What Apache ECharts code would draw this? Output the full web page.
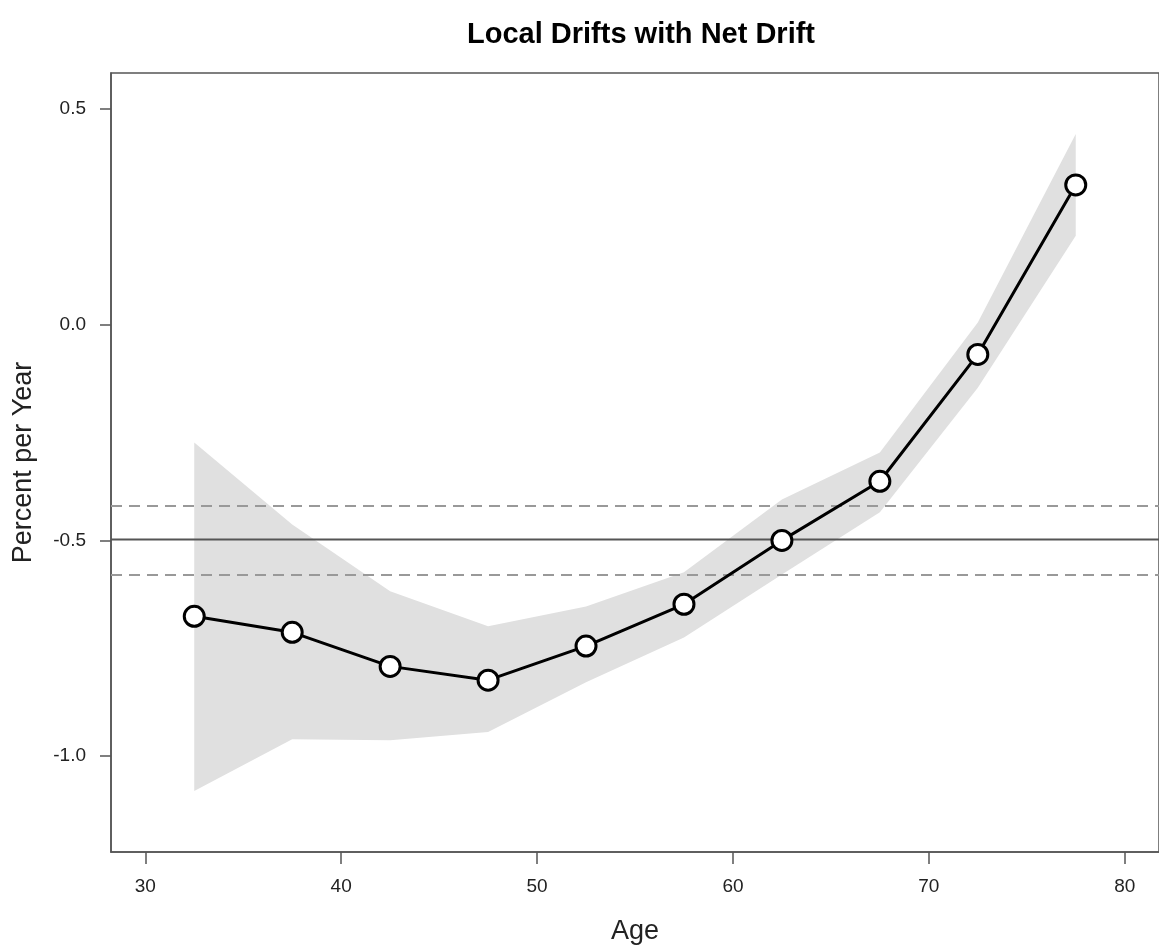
<!DOCTYPE html>
<html>
<head>
<meta charset="utf-8">
<script src="https://cdn.jsdelivr.net/npm/echarts@6/dist/echarts.min.js"></script>
<style>html,body{margin:0;padding:0;background:#fff;}#c{width:1159px;height:950px;}</style>
</head>
<body>
<div id="c"></div>
<script>
var ages = [32.5, 37.5, 42.5, 47.5, 52.5, 57.5, 62.5, 67.5, 72.5, 77.5];
var drift = [-0.676, -0.713, -0.792, -0.824, -0.745, -0.648, -0.500, -0.363, -0.069, 0.324];
var upper = [-0.273, -0.463, -0.618, -0.699, -0.653, -0.574, -0.405, -0.296, 0.005, 0.442];
var lower = [-1.081, -0.961, -0.963, -0.944, -0.829, -0.725, -0.579, -0.435, -0.146, 0.206];
var netDrift = -0.498;
var netLower = -0.584;
var netUpper = -0.419;
var xTicks = [30, 40, 50, 60, 70, 80];
var yTicks = [-1.0, -0.5, 0.0, 0.5];

var chart = echarts.init(document.getElementById('c'), null, {renderer: 'canvas'});
var FONT = '"Liberation Sans", Arial, Helvetica, sans-serif';
var axisCol = '#555';

var option = {
  animation: false,
  backgroundColor: '#fff',
  title: {
    text: 'Local Drifts with Net Drift',
    left: 462, top: 15,
    textStyle: {fontFamily: FONT, fontWeight: 'bold', fontSize: 29, color: '#000'}
  },
  grid: {left: 111, top: 73, right: -4, bottom: 97, show: true, borderColor: axisCol, borderWidth: 1.5, backgroundColor: 'transparent'},
  xAxis: {
    type: 'value', min: 28.25, max: 81.75,
    name: 'Age', nameLocation: 'middle', nameGap: 66,
    nameTextStyle: {fontFamily: FONT, fontSize: 27, color: '#222'},
    axisLine: {show: true, onZero: false, lineStyle: {color: axisCol, width: 1.5}},
    axisTick: {show: true, length: 12, lineStyle: {color: axisCol, width: 1.5}, customValues: xTicks},
    axisLabel: {fontFamily: FONT, fontSize: 19, color: '#222', margin: 25, customValues: xTicks,
      formatter: function (v) { return String(v); }},
    splitLine: {show: false}
  },
  yAxis: {
    type: 'value', min: -1.2222, max: 0.5833,
    name: 'Percent per Year', nameLocation: 'middle', nameGap: 74, nameRotate: 90,
    nameTextStyle: {fontFamily: FONT, fontSize: 27, color: '#222'},
    axisLine: {show: true, onZero: false, lineStyle: {color: axisCol, width: 1.5}},
    axisTick: {show: true, length: 11, lineStyle: {color: axisCol, width: 1.5}, customValues: yTicks},
    axisLabel: {fontFamily: FONT, fontSize: 19, color: '#222', margin: 25, customValues: yTicks,
      formatter: function (v) { return v.toFixed(1); }},
    splitLine: {show: false}
  },
  series: [
    {
      type: 'custom',
      name: 'CI',
      silent: true,
      z: 1,
      data: [0],
      renderItem: function (params, api) {
        var pts = [];
        for (var i = 0; i < ages.length; i++) pts.push(api.coord([ages[i], upper[i]]));
        for (var j = ages.length - 1; j >= 0; j--) pts.push(api.coord([ages[j], lower[j]]));
        return {
          type: 'polygon',
          shape: {points: pts},
          style: {fill: '#e0e0e0', stroke: null}
        };
      }
    },
    {
      type: 'line',
      name: 'net',
      data: [[28.25, netDrift], [81.75, netDrift]],
      symbol: 'none', silent: true, z: 2,
      lineStyle: {color: '#555', width: 2},
      markLine: {
        silent: true, symbol: 'none', label: {show: false},
        lineStyle: {color: '#999', width: 2, type: [11, 7]},
        data: [{yAxis: netUpper}, {yAxis: netLower}]
      }
    },
    {
      type: 'line',
      name: 'drift',
      data: ages.map(function (a, i) { return [a, drift[i]]; }),
      symbol: 'circle', symbolSize: 20, z: 5,
      lineStyle: {color: '#000', width: 3},
      itemStyle: {color: '#fff', borderColor: '#000', borderWidth: 3}
    }
  ]
};
chart.setOption(option);
</script>
</body>
</html>
